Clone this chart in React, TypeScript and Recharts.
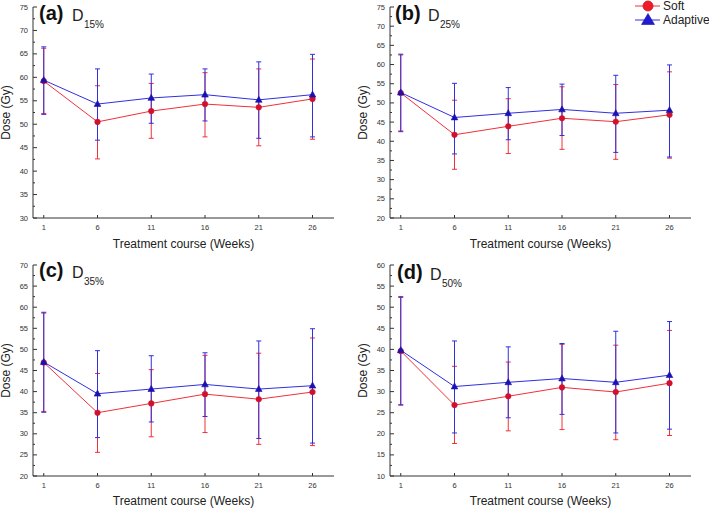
import { ErrorBar, Line, LineChart, XAxis, YAxis } from 'recharts'

const WEEKS = [1, 6, 11, 16, 21, 26]
const X_TICKS = [1, 6, 11, 16, 21, 26]

// (a) D15%
const A_SOFT = [59.2, 50.5, 52.8, 54.3, 53.6, 55.4]
const A_SOFT_LO = [52.3, 42.6, 47.0, 47.3, 45.4, 46.8]
const A_SOFT_HI = [66.2, 58.2, 58.7, 61.0, 61.8, 63.9]
const A_ADAPT = [59.4, 54.3, 55.6, 56.3, 55.2, 56.3]
const A_ADAPT_LO = [52.1, 46.6, 50.2, 50.7, 47.0, 47.3]
const A_ADAPT_HI = [66.5, 61.8, 60.7, 61.8, 63.3, 64.9]

// (b) D25%
const B_SOFT = [52.6, 41.7, 43.9, 46.0, 45.1, 46.9]
const B_SOFT_LO = [42.7, 32.7, 36.8, 37.9, 35.3, 35.6]
const B_SOFT_HI = [62.5, 50.7, 51.1, 54.2, 54.8, 58.1]
const B_ADAPT = [52.7, 46.2, 47.3, 48.3, 47.3, 48.1]
const B_ADAPT_LO = [42.5, 36.7, 40.4, 41.5, 37.1, 35.9]
const B_ADAPT_HI = [62.7, 55.1, 54.0, 54.9, 57.2, 59.9]

// (c) D35%
const C_SOFT = [46.9, 35.0, 37.2, 39.4, 38.2, 39.9]
const C_SOFT_LO = [35.3, 25.6, 29.3, 30.3, 27.5, 27.2]
const C_SOFT_HI = [58.6, 44.3, 45.2, 48.6, 49.1, 52.7]
const C_ADAPT = [47.0, 39.5, 40.6, 41.7, 40.6, 41.4]
const C_ADAPT_LO = [35.1, 29.1, 32.8, 34.1, 28.9, 27.8]
const C_ADAPT_HI = [58.8, 49.7, 48.5, 49.2, 52.0, 54.9]

// (d) D50%
const D_SOFT = [39.6, 26.8, 28.9, 31.0, 29.9, 32.0]
const D_SOFT_LO = [26.9, 17.7, 20.7, 21.0, 18.6, 19.6]
const D_SOFT_HI = [52.3, 36.0, 37.0, 41.2, 41.0, 44.5]
const D_ADAPT = [39.8, 31.2, 32.2, 33.1, 32.2, 33.9]
const D_ADAPT_LO = [26.8, 20.2, 23.8, 24.6, 20.2, 21.1]
const D_ADAPT_HI = [52.5, 42.0, 40.6, 41.4, 44.3, 46.6]

const FONT = '"Liberation Sans", Arial, sans-serif'
const RED_LINE = '#f0303a'
const RED_DOT = '#d3102c'
const BLUE_LINE = '#3030e0'
const BLUE_DOT = '#1a12b0'
const AXIS = '#333'

function buildRows(
  soft: number[], softLo: number[], softHi: number[],
  adapt: number[], adaptLo: number[], adaptHi: number[],
) {
  return WEEKS.map((w, i) => ({
    week: w,
    soft: soft[i],
    softErr: [soft[i] - softLo[i], softHi[i] - soft[i]],
    adapt: adapt[i],
    adaptErr: [adapt[i] - adaptLo[i], adaptHi[i] - adapt[i]],
  }))
}

function yTicks(lo: number, hi: number) {
  const out: number[] = []
  for (let v = lo; v <= hi + 0.001; v += 2.5) out.push(v)
  return out
}

const YTick = (props: any) => {
  const { x, y, payload } = props
  const v = Number(payload.value)
  const major = v % 5 === 0
  return (
    <g>
      <line x1={x} x2={x + (major ? 4 : 2)} y1={y} y2={y} stroke={AXIS} strokeWidth={1} />
      {major && (
        <text x={x - 5} y={y} textAnchor="end" dominantBaseline="central" fontSize={7.5} fill="#333" fontFamily={FONT}>
          {v}
        </text>
      )}
    </g>
  )
}

const XTick = (props: any) => {
  const { x, y, payload } = props
  return (
    <g>
      <line x1={x} x2={x} y1={y} y2={y - 3} stroke={AXIS} strokeWidth={1} />
      <text x={x} y={y + 9} textAnchor="middle" dominantBaseline="central" fontSize={7.5} fill="#333" fontFamily={FONT}>
        {payload.value}
      </text>
    </g>
  )
}

const Triangle = (props: any) => {
  const { cx, cy, index } = props
  if (cx == null || cy == null) return <g key={index} />
  return (
    <polygon
      key={index}
      points={`${cx},${cy - 3.6} ${cx - 3.3},${cy + 2.4} ${cx + 3.3},${cy + 2.4}`}
      fill={BLUE_DOT}
      stroke={BLUE_DOT}
      strokeWidth={0.6}
    />
  )
}

function Panel({
  rows, domain, left, top, height,
}: {
  rows: ReturnType<typeof buildRows>
  domain: [number, number]
  left: number
  top: number
  height: number
}) {
  const plotBottom = 218
  return (
    <div style={{ position: 'absolute', left, top }}>
      <LineChart
        width={354}
        height={height}
        data={rows}
        margin={{ top: 7, right: 20, bottom: 0, left: 0 }}
        style={{ fontFamily: FONT }}
      >
        <XAxis
          dataKey="week"
          type="number"
          domain={[0, 28]}
          ticks={X_TICKS}
          interval={0}
          height={height - plotBottom}
          tickLine={false}
          tickSize={0}
          tickMargin={0}
          axisLine={{ stroke: AXIS, strokeWidth: 1 }}
          tick={<XTick />}
          label={{
            value: 'Treatment course (Weeks)',
            position: 'insideBottom',
            offset: height > 250 ? 6 : 3,
            fontSize: 12,
            fill: '#222',
            fontFamily: FONT,
          }}
        />
        <YAxis
          type="number"
          domain={domain}
          ticks={yTicks(domain[0], domain[1])}
          interval={0}
          width={33}
          tickLine={false}
          tickSize={0}
          tickMargin={0}
          axisLine={{ stroke: AXIS, strokeWidth: 1 }}
          tick={<YTick />}
          label={{
            value: 'Dose (Gy)',
            angle: -90,
            position: 'insideLeft',
            offset: 6,
            fontSize: 12,
            fill: '#222',
            fontFamily: FONT,
            style: { textAnchor: 'middle' },
          }}
        />
        <Line
          dataKey="soft"
          stroke={RED_LINE}
          strokeWidth={1}
          dot={{ r: 2.8, fill: RED_DOT, stroke: RED_DOT, strokeWidth: 0.5 }}
          isAnimationActive={false}
        >
          <ErrorBar dataKey="softErr" width={2.5} stroke={RED_LINE} strokeWidth={1} direction="y" />
        </Line>
        <Line
          dataKey="adapt"
          stroke={BLUE_LINE}
          strokeWidth={1}
          dot={Triangle}
          isAnimationActive={false}
        >
          <ErrorBar dataKey="adaptErr" width={2.5} stroke={BLUE_LINE} strokeWidth={1} direction="y" />
        </Line>
      </LineChart>
    </div>
  )
}

const PANEL_LABELS = [
  { tag: '(a)', sub: '15%', x: 39, y: 20, dy: 21 },
  { tag: '(b)', sub: '25%', x: 395, y: 20, dy: 21 },
  { tag: '(c)', sub: '35%', x: 39, y: 277, dy: 278 },
  { tag: '(d)', sub: '50%', x: 397, y: 279, dy: 280 },
]

export default function App() {
  const rowsA = buildRows(A_SOFT, A_SOFT_LO, A_SOFT_HI, A_ADAPT, A_ADAPT_LO, A_ADAPT_HI)
  const rowsB = buildRows(B_SOFT, B_SOFT_LO, B_SOFT_HI, B_ADAPT, B_ADAPT_LO, B_ADAPT_HI)
  const rowsC = buildRows(C_SOFT, C_SOFT_LO, C_SOFT_HI, C_ADAPT, C_ADAPT_LO, C_ADAPT_HI)
  const rowsD = buildRows(D_SOFT, D_SOFT_LO, D_SOFT_HI, D_ADAPT, D_ADAPT_LO, D_ADAPT_HI)
  return (
    <div
      style={{
        position: 'absolute',
        left: 0,
        top: 0,
        width: 709,
        height: 508,
        overflow: 'hidden',
        background: '#fff',
        fontFamily: FONT,
      }}
    >
      <Panel rows={rowsA} domain={[30, 75]} left={0} top={0} height={254} />
      <Panel rows={rowsB} domain={[20, 75]} left={357} top={0} height={254} />
      <Panel rows={rowsC} domain={[20, 70]} left={0} top={258} height={250} />
      <Panel rows={rowsD} domain={[10, 60]} left={357} top={258} height={250} />
      <svg
        width={709}
        height={508}
        style={{ position: 'absolute', left: 0, top: 0, pointerEvents: 'none' }}
        fontFamily={FONT}
      >
        {PANEL_LABELS.map((p) => (
          <g key={p.tag}>
            <text x={p.x} y={p.y} fontSize={20} fontWeight="bold" fill="#111">
              {p.tag}
            </text>
            <text x={p.x + 33} y={p.dy} fontSize={16} fill="#222">
              D
            </text>
            <text x={p.x + 45} y={p.dy + 7} fontSize={10} fill="#222">
              {p.sub}
            </text>
          </g>
        ))}
        <line x1={635} x2={660} y1={6} y2={6} stroke={RED_LINE} strokeWidth={1} />
        <circle cx={648} cy={6} r={5} fill="#ee1c24" stroke={RED_DOT} strokeWidth={0.8} />
        <text x={663} y={10} fontSize={12} fill="#222">
          Soft
        </text>
        <line x1={635} x2={660} y1={20} y2={20} stroke={BLUE_LINE} strokeWidth={1} />
        <polygon points="648,13.5 641.5,24.5 654.5,24.5" fill="#1f1ad0" stroke={BLUE_DOT} strokeWidth={0.6} />
        <text x={663} y={24} fontSize={12} fill="#222">
          Adaptive
        </text>
      </svg>
    </div>
  )
}
